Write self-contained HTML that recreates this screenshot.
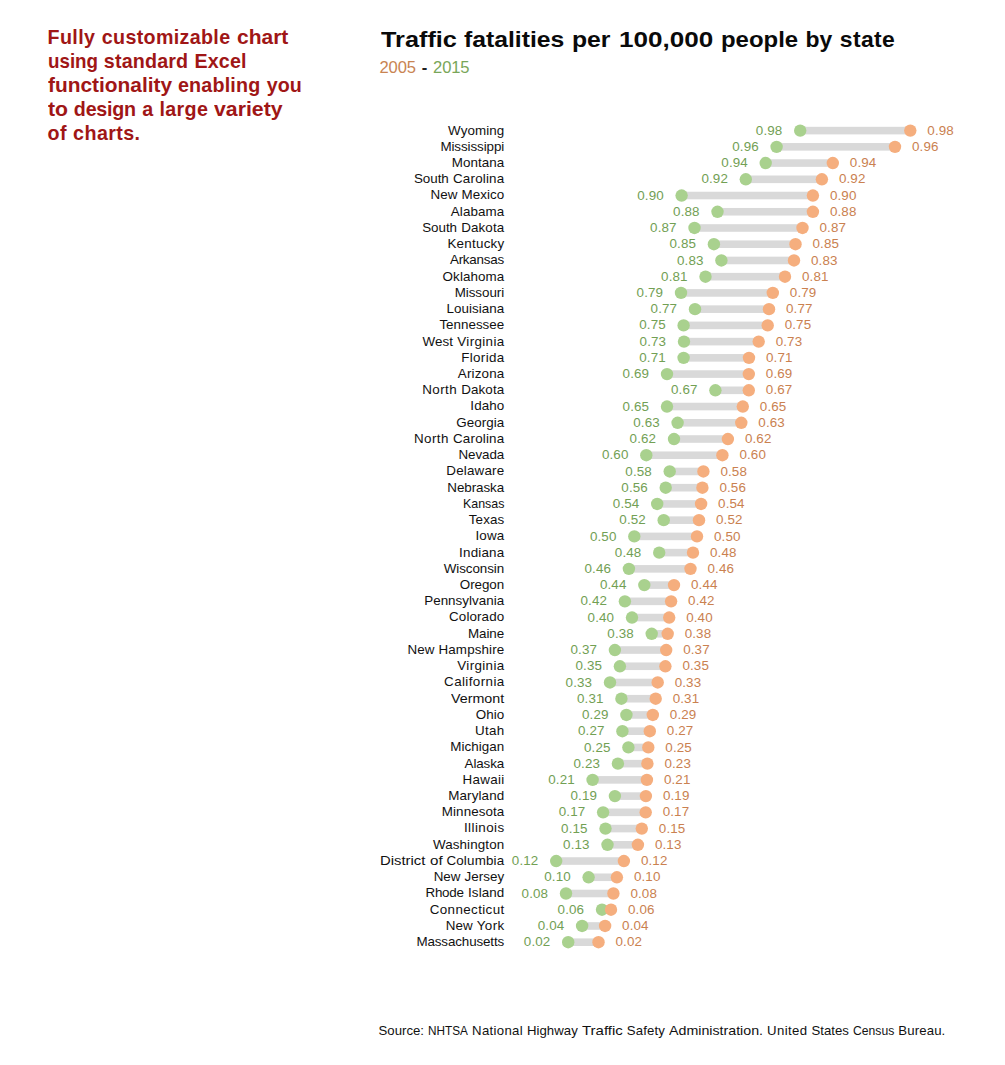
<!DOCTYPE html>
<html><head><meta charset="utf-8"><title>Traffic fatalities</title>
<style>
html,body{margin:0;padding:0;background:#fff;}
body{width:1005px;height:1065px;position:relative;overflow:hidden;font-family:"Liberation Sans",sans-serif;}
.note{position:absolute;left:47.5px;top:24.7px;font-weight:bold;font-size:19.7px;line-height:24.15px;color:#a01616;white-space:nowrap;}
.note div{display:block;}
.title{position:absolute;left:381px;top:25.0px;font-weight:bold;font-size:22.9px;line-height:28px;color:#0a0a0a;white-space:nowrap;}
.sub{position:absolute;left:379.5px;top:58.0px;font-size:16.6px;line-height:20px;white-space:nowrap;color:#222;word-spacing:1.5px;letter-spacing:-0.155px;}
.o{color:#c98452;}
.g{color:#79a659;}
.st{position:absolute;font-size:13.4px;line-height:16px;height:16px;color:#111;white-space:nowrap;text-align:right;}
.lv{position:absolute;font-size:13.4px;line-height:16px;height:16px;white-space:nowrap;letter-spacing:0.134px;}
.lg{color:#72a054;text-align:right;}
.lo{color:#ca8150;}
.src{position:absolute;left:378.5px;top:1023.0px;font-size:13.2px;line-height:16px;color:#111;white-space:nowrap;}
svg{position:absolute;left:0;top:0;}
.sx{display:inline-block;text-align:left;vertical-align:baseline;}
.sx>span{display:inline-block;transform-origin:0 50%;white-space:nowrap;}
</style></head><body>

<div class="note">
<div id="n1" style="word-spacing:0.821px"><span style="letter-spacing:0.405px">Fully</span> <span style="letter-spacing:0.329px">customizable</span> <span class="sx" style="width:51.36px"><span style="transform:scaleX(1.0666)">chart</span></span></div>
<div id="n2" style="word-spacing:0.784px"><span class="sx" style="width:50.04px"><span style="transform:scaleX(0.9532)">using</span></span> <span style="letter-spacing:0.166px">standard</span> <span style="letter-spacing:0.104px">Excel</span></div>
<div id="n3" style="word-spacing:0.798px"><span class="sx" style="width:124.16px"><span style="transform:scaleX(1.0609)">functionality</span></span> <span style="letter-spacing:0.189px">enabling</span> <span style="letter-spacing:0.042px">you</span></div>
<div id="n4" style="word-spacing:0.812px"><span class="sx" style="width:20.05px"><span style="transform:scaleX(1.0785)">to</span></span> <span style="letter-spacing:-0.236px">design</span> <span style="letter-spacing:0.148px">a</span> <span style="letter-spacing:0.307px">large</span> <span class="sx" style="width:68.59px"><span style="transform:scaleX(1.0801)">variety</span></span></div>
<div id="n5" style="word-spacing:0.764px"><span style="letter-spacing:0.384px">of</span> <span style="letter-spacing:0.406px">charts.</span></div>
</div>
<div class="title" id="title" style="word-spacing:0.965px"><span class="sx" style="width:75.90px"><span style="transform:scaleX(1.1047)">Traffic</span></span> <span class="sx" style="width:100.28px"><span style="transform:scaleX(1.0797)">fatalities</span></span> <span class="sx" style="width:38.50px"><span style="transform:scaleX(1.0806)">per</span></span> <span class="sx" style="width:94.19px;margin-left:1.8px"><span style="transform:scaleX(1.1382)">100,000</span></span> <span class="sx" style="width:77.14px"><span style="transform:scaleX(1.0455)">people</span></span> <span style="letter-spacing:0.194px">by</span> <span style="letter-spacing:0.339px">state</span></div>
<div class="sub" id="sub"><span class="o">2005</span> <b style="font-weight:bold">-</b> <span class="g">2015</span></div>
<svg width="1005" height="1065" viewBox="0 0 1005 1065">
<rect x="800.2" y="126.80" width="110.1" height="7.6" fill="#d9d9d9"/>
<rect x="776.6" y="143.03" width="118.4" height="7.6" fill="#d9d9d9"/>
<rect x="765.7" y="159.26" width="67.1" height="7.6" fill="#d9d9d9"/>
<rect x="745.8" y="175.50" width="76.1" height="7.6" fill="#d9d9d9"/>
<rect x="681.6" y="191.73" width="131.3" height="7.6" fill="#d9d9d9"/>
<rect x="717.5" y="207.96" width="95.4" height="7.6" fill="#d9d9d9"/>
<rect x="694.5" y="224.19" width="108.0" height="7.6" fill="#d9d9d9"/>
<rect x="713.9" y="240.42" width="81.6" height="7.6" fill="#d9d9d9"/>
<rect x="721.4" y="256.66" width="72.6" height="7.6" fill="#d9d9d9"/>
<rect x="705.5" y="272.89" width="79.5" height="7.6" fill="#d9d9d9"/>
<rect x="681.0" y="289.12" width="91.8" height="7.6" fill="#d9d9d9"/>
<rect x="695.0" y="305.35" width="74.0" height="7.6" fill="#d9d9d9"/>
<rect x="683.6" y="321.58" width="84.1" height="7.6" fill="#d9d9d9"/>
<rect x="684.0" y="337.82" width="74.7" height="7.6" fill="#d9d9d9"/>
<rect x="683.6" y="354.05" width="65.4" height="7.6" fill="#d9d9d9"/>
<rect x="667.0" y="370.28" width="81.8" height="7.6" fill="#d9d9d9"/>
<rect x="715.4" y="386.51" width="33.4" height="7.6" fill="#d9d9d9"/>
<rect x="667.0" y="402.74" width="75.8" height="7.6" fill="#d9d9d9"/>
<rect x="677.6" y="418.98" width="63.7" height="7.6" fill="#d9d9d9"/>
<rect x="674.0" y="435.21" width="53.9" height="7.6" fill="#d9d9d9"/>
<rect x="646.3" y="451.44" width="76.1" height="7.6" fill="#d9d9d9"/>
<rect x="669.7" y="467.67" width="33.7" height="7.6" fill="#d9d9d9"/>
<rect x="665.7" y="483.90" width="36.7" height="7.6" fill="#d9d9d9"/>
<rect x="657.2" y="500.14" width="43.9" height="7.6" fill="#d9d9d9"/>
<rect x="663.7" y="516.37" width="35.3" height="7.6" fill="#d9d9d9"/>
<rect x="634.3" y="532.60" width="62.7" height="7.6" fill="#d9d9d9"/>
<rect x="659.2" y="548.83" width="33.8" height="7.6" fill="#d9d9d9"/>
<rect x="628.9" y="565.06" width="61.6" height="7.6" fill="#d9d9d9"/>
<rect x="644.3" y="581.30" width="29.7" height="7.6" fill="#d9d9d9"/>
<rect x="624.9" y="597.53" width="46.2" height="7.6" fill="#d9d9d9"/>
<rect x="632.0" y="613.76" width="37.2" height="7.6" fill="#d9d9d9"/>
<rect x="651.7" y="629.99" width="16.0" height="7.6" fill="#d9d9d9"/>
<rect x="614.9" y="646.22" width="51.3" height="7.6" fill="#d9d9d9"/>
<rect x="619.9" y="662.46" width="45.5" height="7.6" fill="#d9d9d9"/>
<rect x="610.0" y="678.69" width="47.7" height="7.6" fill="#d9d9d9"/>
<rect x="621.4" y="694.92" width="34.3" height="7.6" fill="#d9d9d9"/>
<rect x="626.4" y="711.15" width="26.4" height="7.6" fill="#d9d9d9"/>
<rect x="622.4" y="727.38" width="27.4" height="7.6" fill="#d9d9d9"/>
<rect x="628.4" y="743.62" width="19.9" height="7.6" fill="#d9d9d9"/>
<rect x="617.9" y="759.85" width="29.5" height="7.6" fill="#d9d9d9"/>
<rect x="592.6" y="776.08" width="54.3" height="7.6" fill="#d9d9d9"/>
<rect x="614.9" y="792.31" width="31.0" height="7.6" fill="#d9d9d9"/>
<rect x="603.1" y="808.54" width="42.6" height="7.6" fill="#d9d9d9"/>
<rect x="605.5" y="824.78" width="36.3" height="7.6" fill="#d9d9d9"/>
<rect x="607.5" y="841.01" width="30.4" height="7.6" fill="#d9d9d9"/>
<rect x="556.2" y="857.24" width="67.7" height="7.6" fill="#d9d9d9"/>
<rect x="588.6" y="873.47" width="28.3" height="7.6" fill="#d9d9d9"/>
<rect x="566.0" y="889.70" width="47.4" height="7.6" fill="#d9d9d9"/>
<rect x="602.0" y="905.94" width="9.0" height="7.6" fill="#d9d9d9"/>
<rect x="582.1" y="922.17" width="23.0" height="7.6" fill="#d9d9d9"/>
<rect x="568.2" y="938.40" width="30.3" height="7.6" fill="#d9d9d9"/>
<circle cx="800.2" cy="130.60" r="6.2" fill="#a9d18e"/><circle cx="910.3" cy="130.60" r="6.2" fill="#f5ae7e"/>
<circle cx="776.6" cy="146.83" r="6.2" fill="#a9d18e"/><circle cx="895.0" cy="146.83" r="6.2" fill="#f5ae7e"/>
<circle cx="765.7" cy="163.06" r="6.2" fill="#a9d18e"/><circle cx="832.8" cy="163.06" r="6.2" fill="#f5ae7e"/>
<circle cx="745.8" cy="179.30" r="6.2" fill="#a9d18e"/><circle cx="821.9" cy="179.30" r="6.2" fill="#f5ae7e"/>
<circle cx="681.6" cy="195.53" r="6.2" fill="#a9d18e"/><circle cx="812.9" cy="195.53" r="6.2" fill="#f5ae7e"/>
<circle cx="717.5" cy="211.76" r="6.2" fill="#a9d18e"/><circle cx="812.9" cy="211.76" r="6.2" fill="#f5ae7e"/>
<circle cx="694.5" cy="227.99" r="6.2" fill="#a9d18e"/><circle cx="802.5" cy="227.99" r="6.2" fill="#f5ae7e"/>
<circle cx="713.9" cy="244.22" r="6.2" fill="#a9d18e"/><circle cx="795.5" cy="244.22" r="6.2" fill="#f5ae7e"/>
<circle cx="721.4" cy="260.46" r="6.2" fill="#a9d18e"/><circle cx="794.0" cy="260.46" r="6.2" fill="#f5ae7e"/>
<circle cx="705.5" cy="276.69" r="6.2" fill="#a9d18e"/><circle cx="785.0" cy="276.69" r="6.2" fill="#f5ae7e"/>
<circle cx="681.0" cy="292.92" r="6.2" fill="#a9d18e"/><circle cx="772.8" cy="292.92" r="6.2" fill="#f5ae7e"/>
<circle cx="695.0" cy="309.15" r="6.2" fill="#a9d18e"/><circle cx="769.0" cy="309.15" r="6.2" fill="#f5ae7e"/>
<circle cx="683.6" cy="325.38" r="6.2" fill="#a9d18e"/><circle cx="767.7" cy="325.38" r="6.2" fill="#f5ae7e"/>
<circle cx="684.0" cy="341.62" r="6.2" fill="#a9d18e"/><circle cx="758.7" cy="341.62" r="6.2" fill="#f5ae7e"/>
<circle cx="683.6" cy="357.85" r="6.2" fill="#a9d18e"/><circle cx="749.0" cy="357.85" r="6.2" fill="#f5ae7e"/>
<circle cx="667.0" cy="374.08" r="6.2" fill="#a9d18e"/><circle cx="748.8" cy="374.08" r="6.2" fill="#f5ae7e"/>
<circle cx="715.4" cy="390.31" r="6.2" fill="#a9d18e"/><circle cx="748.8" cy="390.31" r="6.2" fill="#f5ae7e"/>
<circle cx="667.0" cy="406.54" r="6.2" fill="#a9d18e"/><circle cx="742.8" cy="406.54" r="6.2" fill="#f5ae7e"/>
<circle cx="677.6" cy="422.78" r="6.2" fill="#a9d18e"/><circle cx="741.3" cy="422.78" r="6.2" fill="#f5ae7e"/>
<circle cx="674.0" cy="439.01" r="6.2" fill="#a9d18e"/><circle cx="727.9" cy="439.01" r="6.2" fill="#f5ae7e"/>
<circle cx="646.3" cy="455.24" r="6.2" fill="#a9d18e"/><circle cx="722.4" cy="455.24" r="6.2" fill="#f5ae7e"/>
<circle cx="669.7" cy="471.47" r="6.2" fill="#a9d18e"/><circle cx="703.4" cy="471.47" r="6.2" fill="#f5ae7e"/>
<circle cx="665.7" cy="487.70" r="6.2" fill="#a9d18e"/><circle cx="702.4" cy="487.70" r="6.2" fill="#f5ae7e"/>
<circle cx="657.2" cy="503.94" r="6.2" fill="#a9d18e"/><circle cx="701.1" cy="503.94" r="6.2" fill="#f5ae7e"/>
<circle cx="663.7" cy="520.17" r="6.2" fill="#a9d18e"/><circle cx="699.0" cy="520.17" r="6.2" fill="#f5ae7e"/>
<circle cx="634.3" cy="536.40" r="6.2" fill="#a9d18e"/><circle cx="697.0" cy="536.40" r="6.2" fill="#f5ae7e"/>
<circle cx="659.2" cy="552.63" r="6.2" fill="#a9d18e"/><circle cx="693.0" cy="552.63" r="6.2" fill="#f5ae7e"/>
<circle cx="628.9" cy="568.86" r="6.2" fill="#a9d18e"/><circle cx="690.5" cy="568.86" r="6.2" fill="#f5ae7e"/>
<circle cx="644.3" cy="585.10" r="6.2" fill="#a9d18e"/><circle cx="674.0" cy="585.10" r="6.2" fill="#f5ae7e"/>
<circle cx="624.9" cy="601.33" r="6.2" fill="#a9d18e"/><circle cx="671.1" cy="601.33" r="6.2" fill="#f5ae7e"/>
<circle cx="632.0" cy="617.56" r="6.2" fill="#a9d18e"/><circle cx="669.2" cy="617.56" r="6.2" fill="#f5ae7e"/>
<circle cx="651.7" cy="633.79" r="6.2" fill="#a9d18e"/><circle cx="667.7" cy="633.79" r="6.2" fill="#f5ae7e"/>
<circle cx="614.9" cy="650.02" r="6.2" fill="#a9d18e"/><circle cx="666.2" cy="650.02" r="6.2" fill="#f5ae7e"/>
<circle cx="619.9" cy="666.26" r="6.2" fill="#a9d18e"/><circle cx="665.4" cy="666.26" r="6.2" fill="#f5ae7e"/>
<circle cx="610.0" cy="682.49" r="6.2" fill="#a9d18e"/><circle cx="657.7" cy="682.49" r="6.2" fill="#f5ae7e"/>
<circle cx="621.4" cy="698.72" r="6.2" fill="#a9d18e"/><circle cx="655.7" cy="698.72" r="6.2" fill="#f5ae7e"/>
<circle cx="626.4" cy="714.95" r="6.2" fill="#a9d18e"/><circle cx="652.8" cy="714.95" r="6.2" fill="#f5ae7e"/>
<circle cx="622.4" cy="731.18" r="6.2" fill="#a9d18e"/><circle cx="649.8" cy="731.18" r="6.2" fill="#f5ae7e"/>
<circle cx="628.4" cy="747.42" r="6.2" fill="#a9d18e"/><circle cx="648.3" cy="747.42" r="6.2" fill="#f5ae7e"/>
<circle cx="617.9" cy="763.65" r="6.2" fill="#a9d18e"/><circle cx="647.4" cy="763.65" r="6.2" fill="#f5ae7e"/>
<circle cx="592.6" cy="779.88" r="6.2" fill="#a9d18e"/><circle cx="646.9" cy="779.88" r="6.2" fill="#f5ae7e"/>
<circle cx="614.9" cy="796.11" r="6.2" fill="#a9d18e"/><circle cx="645.9" cy="796.11" r="6.2" fill="#f5ae7e"/>
<circle cx="603.1" cy="812.34" r="6.2" fill="#a9d18e"/><circle cx="645.7" cy="812.34" r="6.2" fill="#f5ae7e"/>
<circle cx="605.5" cy="828.58" r="6.2" fill="#a9d18e"/><circle cx="641.8" cy="828.58" r="6.2" fill="#f5ae7e"/>
<circle cx="607.5" cy="844.81" r="6.2" fill="#a9d18e"/><circle cx="637.9" cy="844.81" r="6.2" fill="#f5ae7e"/>
<circle cx="556.2" cy="861.04" r="6.2" fill="#a9d18e"/><circle cx="623.9" cy="861.04" r="6.2" fill="#f5ae7e"/>
<circle cx="588.6" cy="877.27" r="6.2" fill="#a9d18e"/><circle cx="616.9" cy="877.27" r="6.2" fill="#f5ae7e"/>
<circle cx="566.0" cy="893.50" r="6.2" fill="#a9d18e"/><circle cx="613.4" cy="893.50" r="6.2" fill="#f5ae7e"/>
<circle cx="602.0" cy="909.74" r="6.2" fill="#a9d18e"/><circle cx="611.0" cy="909.74" r="6.2" fill="#f5ae7e"/>
<circle cx="582.1" cy="925.97" r="6.2" fill="#a9d18e"/><circle cx="605.1" cy="925.97" r="6.2" fill="#f5ae7e"/>
<circle cx="568.2" cy="942.20" r="6.2" fill="#a9d18e"/><circle cx="598.5" cy="942.20" r="6.2" fill="#f5ae7e"/>
</svg>
<div class="st" style="top:122.50px;right:500.72px;word-spacing:0.450px"><span style="letter-spacing:0.077px">Wyoming</span></div>
<div class="lv lg" style="top:122.70px;right:222.6px">0.98</div>
<div class="lv lo" style="top:122.70px;left:927.3px">0.98</div>
<div class="st" style="top:138.73px;right:500.89px;word-spacing:0.450px"><span style="letter-spacing:-0.094px">Mississippi</span></div>
<div class="lv lg" style="top:138.93px;right:246.2px">0.96</div>
<div class="lv lo" style="top:138.93px;left:912.0px">0.96</div>
<div class="st" style="top:154.96px;right:500.73px;word-spacing:0.450px"><span style="letter-spacing:0.068px">Montana</span></div>
<div class="lv lg" style="top:155.16px;right:257.1px">0.94</div>
<div class="lv lo" style="top:155.16px;left:849.8px">0.94</div>
<div class="st" style="top:171.20px;right:500.61px;word-spacing:0.450px"><span style="letter-spacing:-0.033px">South</span> <span style="letter-spacing:0.194px">Carolina</span></div>
<div class="lv lg" style="top:171.40px;right:277.0px">0.92</div>
<div class="lv lo" style="top:171.40px;left:838.9px">0.92</div>
<div class="st" style="top:187.43px;right:500.75px;word-spacing:0.450px"><span style="letter-spacing:-0.004px">New</span> <span style="letter-spacing:0.046px">Mexico</span></div>
<div class="lv lg" style="top:187.63px;right:341.2px">0.90</div>
<div class="lv lo" style="top:187.63px;left:829.9px">0.90</div>
<div class="st" style="top:203.66px;right:500.71px;word-spacing:0.450px"><span style="letter-spacing:0.088px">Alabama</span></div>
<div class="lv lg" style="top:203.86px;right:305.3px">0.88</div>
<div class="lv lo" style="top:203.86px;left:829.9px">0.88</div>
<div class="st" style="top:219.89px;right:500.69px;word-spacing:0.450px"><span style="letter-spacing:-0.033px">South</span> <span style="letter-spacing:0.109px">Dakota</span></div>
<div class="lv lg" style="top:220.09px;right:328.3px">0.87</div>
<div class="lv lo" style="top:220.09px;left:819.5px">0.87</div>
<div class="st" style="top:236.12px;right:500.56px;word-spacing:0.450px"><span style="letter-spacing:0.239px">Kentucky</span></div>
<div class="lv lg" style="top:236.32px;right:308.9px">0.85</div>
<div class="lv lo" style="top:236.32px;left:812.5px">0.85</div>
<div class="st" style="top:252.36px;right:501.02px;word-spacing:0.450px"><span style="letter-spacing:-0.221px">Arkansas</span></div>
<div class="lv lg" style="top:252.56px;right:301.4px">0.83</div>
<div class="lv lo" style="top:252.56px;left:811.0px">0.83</div>
<div class="st" style="top:268.59px;right:500.72px;word-spacing:0.450px"><span style="letter-spacing:0.079px">Oklahoma</span></div>
<div class="lv lg" style="top:268.79px;right:317.3px">0.81</div>
<div class="lv lo" style="top:268.79px;left:802.0px">0.81</div>
<div class="st" style="top:284.82px;right:500.85px;word-spacing:0.450px"><span style="letter-spacing:-0.045px">Missouri</span></div>
<div class="lv lg" style="top:285.02px;right:341.8px">0.79</div>
<div class="lv lo" style="top:285.02px;left:789.8px">0.79</div>
<div class="st" style="top:301.05px;right:500.75px;word-spacing:0.450px"><span style="letter-spacing:0.053px">Louisiana</span></div>
<div class="lv lg" style="top:301.25px;right:327.8px">0.77</div>
<div class="lv lo" style="top:301.25px;left:786.0px">0.77</div>
<div class="st" style="top:317.28px;right:500.80px;word-spacing:0.450px"><span style="letter-spacing:0.004px">Tennessee</span></div>
<div class="lv lg" style="top:317.48px;right:339.2px">0.75</div>
<div class="lv lo" style="top:317.48px;left:784.7px">0.75</div>
<div class="st" style="top:333.52px;right:500.44px;word-spacing:0.450px"><span style="letter-spacing:0.072px">West</span> <span style="letter-spacing:0.362px">Virginia</span></div>
<div class="lv lg" style="top:333.72px;right:338.8px">0.73</div>
<div class="lv lo" style="top:333.72px;left:775.7px">0.73</div>
<div class="st" style="top:349.75px;right:500.47px;word-spacing:0.450px"><span style="letter-spacing:0.333px">Florida</span></div>
<div class="lv lg" style="top:349.95px;right:339.2px">0.71</div>
<div class="lv lo" style="top:349.95px;left:766.0px">0.71</div>
<div class="st" style="top:365.98px;right:500.64px;word-spacing:0.450px"><span style="letter-spacing:0.160px">Arizona</span></div>
<div class="lv lg" style="top:366.18px;right:355.8px">0.69</div>
<div class="lv lo" style="top:366.18px;left:765.8px">0.69</div>
<div class="st" style="top:382.21px;right:500.69px;word-spacing:0.450px"><span style="letter-spacing:0.417px">North</span> <span style="letter-spacing:0.109px">Dakota</span></div>
<div class="lv lg" style="top:382.41px;right:307.4px">0.67</div>
<div class="lv lo" style="top:382.41px;left:765.8px">0.67</div>
<div class="st" style="top:398.44px;right:500.71px;word-spacing:0.450px"><span style="letter-spacing:0.088px">Idaho</span></div>
<div class="lv lg" style="top:398.64px;right:355.8px">0.65</div>
<div class="lv lo" style="top:398.64px;left:759.8px">0.65</div>
<div class="st" style="top:414.68px;right:500.74px;word-spacing:0.450px"><span style="letter-spacing:0.063px">Georgia</span></div>
<div class="lv lg" style="top:414.88px;right:345.2px">0.63</div>
<div class="lv lo" style="top:414.88px;left:758.3px">0.63</div>
<div class="st" style="top:430.91px;right:500.61px;word-spacing:0.450px"><span style="letter-spacing:0.417px">North</span> <span style="letter-spacing:0.194px">Carolina</span></div>
<div class="lv lg" style="top:431.11px;right:348.8px">0.62</div>
<div class="lv lo" style="top:431.11px;left:744.9px">0.62</div>
<div class="st" style="top:447.14px;right:500.89px;word-spacing:0.450px"><span style="letter-spacing:-0.094px">Nevada</span></div>
<div class="lv lg" style="top:447.34px;right:376.5px">0.60</div>
<div class="lv lo" style="top:447.34px;left:739.4px">0.60</div>
<div class="st" style="top:463.37px;right:500.61px;word-spacing:0.450px"><span style="letter-spacing:0.192px">Delaware</span></div>
<div class="lv lg" style="top:463.57px;right:353.1px">0.58</div>
<div class="lv lo" style="top:463.57px;left:720.4px">0.58</div>
<div class="st" style="top:479.60px;right:500.86px;word-spacing:0.450px"><span style="letter-spacing:-0.061px">Nebraska</span></div>
<div class="lv lg" style="top:479.80px;right:357.1px">0.56</div>
<div class="lv lo" style="top:479.80px;left:719.4px">0.56</div>
<div class="st" style="top:495.84px;right:500.80px;word-spacing:0.450px"><span class="sx" style="width:41.45px"><span style="transform:scaleX(0.9279)">Kansas</span></span></div>
<div class="lv lg" style="top:496.04px;right:365.6px">0.54</div>
<div class="lv lo" style="top:496.04px;left:718.1px">0.54</div>
<div class="st" style="top:512.07px;right:500.69px;word-spacing:0.450px"><span style="letter-spacing:0.112px">Texas</span></div>
<div class="lv lg" style="top:512.27px;right:359.1px">0.52</div>
<div class="lv lo" style="top:512.27px;left:716.0px">0.52</div>
<div class="st" style="top:528.30px;right:500.63px;word-spacing:0.450px"><span style="letter-spacing:0.168px">Iowa</span></div>
<div class="lv lg" style="top:528.50px;right:388.5px">0.50</div>
<div class="lv lo" style="top:528.50px;left:714.0px">0.50</div>
<div class="st" style="top:544.53px;right:500.60px;word-spacing:0.450px"><span style="letter-spacing:0.201px">Indiana</span></div>
<div class="lv lg" style="top:544.73px;right:363.6px">0.48</div>
<div class="lv lo" style="top:544.73px;left:710.0px">0.48</div>
<div class="st" style="top:560.76px;right:500.85px;word-spacing:0.450px"><span style="letter-spacing:-0.054px">Wisconsin</span></div>
<div class="lv lg" style="top:560.96px;right:393.9px">0.46</div>
<div class="lv lo" style="top:560.96px;left:707.5px">0.46</div>
<div class="st" style="top:577.00px;right:500.85px;word-spacing:0.450px"><span style="letter-spacing:-0.048px">Oregon</span></div>
<div class="lv lg" style="top:577.20px;right:378.5px">0.44</div>
<div class="lv lo" style="top:577.20px;left:691.0px">0.44</div>
<div class="st" style="top:593.23px;right:500.77px;word-spacing:0.450px"><span style="letter-spacing:0.033px">Pennsylvania</span></div>
<div class="lv lg" style="top:593.43px;right:397.9px">0.42</div>
<div class="lv lo" style="top:593.43px;left:688.1px">0.42</div>
<div class="st" style="top:609.46px;right:500.69px;word-spacing:0.450px"><span style="letter-spacing:0.114px">Colorado</span></div>
<div class="lv lg" style="top:609.66px;right:390.8px">0.40</div>
<div class="lv lo" style="top:609.66px;left:686.2px">0.40</div>
<div class="st" style="top:625.69px;right:500.84px;word-spacing:0.450px"><span style="letter-spacing:-0.041px">Maine</span></div>
<div class="lv lg" style="top:625.89px;right:371.1px">0.38</div>
<div class="lv lo" style="top:625.89px;left:684.7px">0.38</div>
<div class="st" style="top:641.92px;right:500.68px;word-spacing:0.450px"><span style="letter-spacing:-0.004px">New</span> <span style="letter-spacing:0.120px">Hampshire</span></div>
<div class="lv lg" style="top:642.12px;right:407.9px">0.37</div>
<div class="lv lo" style="top:642.12px;left:683.2px">0.37</div>
<div class="st" style="top:658.16px;right:500.44px;word-spacing:0.450px"><span style="letter-spacing:0.362px">Virginia</span></div>
<div class="lv lg" style="top:658.36px;right:402.9px">0.35</div>
<div class="lv lo" style="top:658.36px;left:682.4px">0.35</div>
<div class="st" style="top:674.39px;right:500.40px;word-spacing:0.450px"><span style="letter-spacing:0.396px">California</span></div>
<div class="lv lg" style="top:674.59px;right:412.8px">0.33</div>
<div class="lv lo" style="top:674.59px;left:674.7px">0.33</div>
<div class="st" style="top:690.62px;right:500.80px;word-spacing:0.450px"><span class="sx" style="width:53.24px"><span style="transform:scaleX(1.0674)">Vermont</span></span></div>
<div class="lv lg" style="top:690.82px;right:401.4px">0.31</div>
<div class="lv lo" style="top:690.82px;left:672.7px">0.31</div>
<div class="st" style="top:706.85px;right:500.78px;word-spacing:0.450px"><span style="letter-spacing:0.022px">Ohio</span></div>
<div class="lv lg" style="top:707.05px;right:396.4px">0.29</div>
<div class="lv lo" style="top:707.05px;left:669.8px">0.29</div>
<div class="st" style="top:723.08px;right:500.52px;word-spacing:0.450px"><span style="letter-spacing:0.275px">Utah</span></div>
<div class="lv lg" style="top:723.28px;right:400.4px">0.27</div>
<div class="lv lo" style="top:723.28px;left:666.8px">0.27</div>
<div class="st" style="top:739.32px;right:500.74px;word-spacing:0.450px"><span style="letter-spacing:0.065px">Michigan</span></div>
<div class="lv lg" style="top:739.52px;right:394.4px">0.25</div>
<div class="lv lo" style="top:739.52px;left:665.3px">0.25</div>
<div class="st" style="top:755.55px;right:500.91px;word-spacing:0.450px"><span style="letter-spacing:-0.112px">Alaska</span></div>
<div class="lv lg" style="top:755.75px;right:404.9px">0.23</div>
<div class="lv lo" style="top:755.75px;left:664.4px">0.23</div>
<div class="st" style="top:771.78px;right:500.51px;word-spacing:0.450px"><span style="letter-spacing:0.294px">Hawaii</span></div>
<div class="lv lg" style="top:771.98px;right:430.2px">0.21</div>
<div class="lv lo" style="top:771.98px;left:663.9px">0.21</div>
<div class="st" style="top:788.01px;right:500.67px;word-spacing:0.450px"><span style="letter-spacing:0.133px">Maryland</span></div>
<div class="lv lg" style="top:788.21px;right:407.9px">0.19</div>
<div class="lv lo" style="top:788.21px;left:662.9px">0.19</div>
<div class="st" style="top:804.24px;right:500.73px;word-spacing:0.450px"><span style="letter-spacing:0.074px">Minnesota</span></div>
<div class="lv lg" style="top:804.44px;right:419.7px">0.17</div>
<div class="lv lo" style="top:804.44px;left:662.7px">0.17</div>
<div class="st" style="top:820.48px;right:500.37px;word-spacing:0.450px"><span style="letter-spacing:0.432px">Illinois</span></div>
<div class="lv lg" style="top:820.68px;right:417.3px">0.15</div>
<div class="lv lo" style="top:820.68px;left:658.8px">0.15</div>
<div class="st" style="top:836.71px;right:500.68px;word-spacing:0.450px"><span style="letter-spacing:0.123px">Washington</span></div>
<div class="lv lg" style="top:836.91px;right:415.3px">0.13</div>
<div class="lv lo" style="top:836.91px;left:654.9px">0.13</div>
<div class="st" style="top:852.94px;right:500.62px;word-spacing:0.450px"><span class="sx" style="width:45.37px"><span style="transform:scaleX(1.1087)">District</span></span> <span class="sx" style="width:12.61px"><span style="transform:scaleX(1.1285)">of</span></span> <span style="letter-spacing:0.178px">Columbia</span></div>
<div class="lv lg" style="top:853.14px;right:466.6px">0.12</div>
<div class="lv lo" style="top:853.14px;left:640.9px">0.12</div>
<div class="st" style="top:869.17px;right:500.76px;word-spacing:0.450px"><span style="letter-spacing:-0.004px">New</span> <span style="letter-spacing:0.036px">Jersey</span></div>
<div class="lv lg" style="top:869.37px;right:434.2px">0.10</div>
<div class="lv lo" style="top:869.37px;left:633.9px">0.10</div>
<div class="st" style="top:885.40px;right:500.72px;word-spacing:0.450px"><span style="letter-spacing:-0.201px">Rhode</span> <span style="letter-spacing:0.082px">Island</span></div>
<div class="lv lg" style="top:885.60px;right:456.8px">0.08</div>
<div class="lv lo" style="top:885.60px;left:630.4px">0.08</div>
<div class="st" style="top:901.64px;right:500.42px;word-spacing:0.450px"><span style="letter-spacing:0.376px">Connecticut</span></div>
<div class="lv lg" style="top:901.84px;right:420.8px">0.06</div>
<div class="lv lo" style="top:901.84px;left:628.0px">0.06</div>
<div class="st" style="top:917.87px;right:500.43px;word-spacing:0.450px"><span style="letter-spacing:-0.004px">New</span> <span style="letter-spacing:0.372px">York</span></div>
<div class="lv lg" style="top:918.07px;right:440.7px">0.04</div>
<div class="lv lo" style="top:918.07px;left:622.1px">0.04</div>
<div class="st" style="top:934.10px;right:500.93px;word-spacing:0.450px"><span style="letter-spacing:-0.131px">Massachusetts</span></div>
<div class="lv lg" style="top:934.30px;right:454.6px">0.02</div>
<div class="lv lo" style="top:934.30px;left:615.5px">0.02</div>
<div class="src" id="src" style="word-spacing:0.408px"><span style="letter-spacing:0.013px">Source:</span> <span class="sx" style="width:39.91px"><span style="transform:scaleX(0.8927)">NHTSA</span></span> <span style="letter-spacing:0.300px">National</span> <span style="letter-spacing:0.034px">Highway</span> <span class="sx" style="width:40.87px"><span style="transform:scaleX(1.1382)">Traffic</span></span> <span style="letter-spacing:0.117px">Safety</span> <span class="sx" style="width:94.06px"><span style="transform:scaleX(1.0783)">Administration.</span></span> <span style="letter-spacing:0.372px">United</span> <span style="letter-spacing:-0.023px">States</span> <span class="sx" style="width:41.28px"><span style="transform:scaleX(0.9230)">Census</span></span> <span style="letter-spacing:0.146px">Bureau.</span></div>
</body></html>
